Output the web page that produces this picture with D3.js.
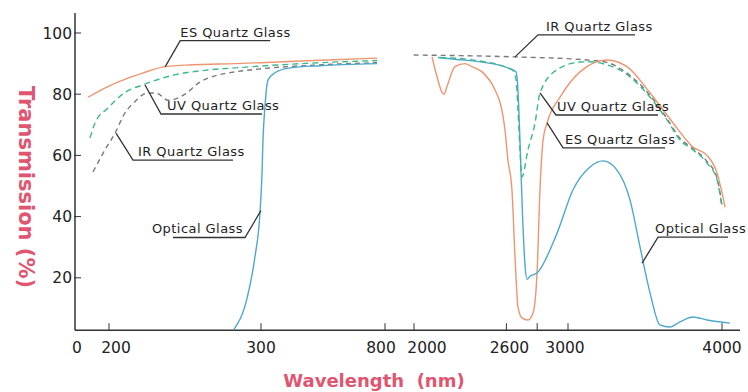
<!DOCTYPE html>
<html>
<head>
<meta charset="utf-8">
<script src="https://cdn.jsdelivr.net/npm/d3@7"></script>
<style>
  body { margin: 0; background: #fff; }
  svg { display: block; font-family: "DejaVu Sans", sans-serif; }
</style>
</head>
<body>
<div class="container"></div>
<script>
// wavelength (nm), transmission (%)
var esQuartzLeft = [[76,79],[194,82.5],[207,84.2],[222,86.9],[237,89],[255,89.6],[283,90],[300,90.3],[540,91.1],[768,91.8]];
var uvQuartzLeft = [[88,65.7],[118,70.6],[194,75.5],[210,80.4],[222,83],[243,86.3],[265,87.9],[283,88.6],[300,89.2],[540,90.3],[768,91]];
var irQuartzLeft = [[106,54.6],[176,61.8],[204,67.3],[210.5,73.9],[217,77.5],[224,80.2],[231,80.4],[239,78],[250,80],[259,83.7],[272,86.3],[283,87.3],[300,88.3],[540,89.6],[768,90.3]];
var opticalLeft  = [[282,3],[291,13.7],[296,26.8],[299.3,41],[304,54],[308,65],[316,76],[328,84.6],[356,87],[417,88.6],[540,89.3],[768,90]];

var esQuartzRight = [[2117,92.2],[2150,85.6],[2182,80.6],[2195,80],[2214,82.5],[2266,89],[2331,90],[2377,89],[2442,87.3],[2526,81.4],[2571,74.8],[2591,68.3],[2610,58.5],[2636,48.7],[2656,26.8],[2675,10.5],[2701,6.9],[2740,6.2],[2773,8.5],[2799,21.6],[2818,48.7],[2838,65],[2864,70.6],[2948,79],[3078,87.3],[3253,91.2],[3383,89],[3533,80.4],[3682,70.6],[3812,62.7],[3903,60],[3968,54.2],[4020,43.1]];
var uvQuartzRight = [[2169,92],[2377,91.2],[2636,88],[2662,85],[2675,75],[2688,62],[2701,53],[2740,61.8],[2786,70.6],[2818,80.4],[2929,88],[3078,90.5],[3143,90.6],[3253,89.6],[3357,87.3],[3533,79],[3643,71.6],[3727,65],[3812,61.8],[3903,57.5],[3968,52],[4000,42.8]];
var irQuartzRight = [[1987,92.8],[2650,92.2],[3120,91.2],[3253,90.4],[3357,87.8],[3533,79.6],[3643,72],[3727,65.6],[3812,62.2],[3903,58],[3968,52.6],[4000,43.6]];
var opticalRight  = [[2156,92],[2266,91.4],[2442,90.5],[2610,88.6],[2662,87.3],[2675,81.4],[2688,65],[2705,40],[2721,24],[2734,19.5],[2753,20.5],[2799,21.6],[2929,34.6],[3032,48.7],[3143,56.2],[3227,58.2],[3318,55.2],[3403,45.4],[3468,30],[3533,15],[3597,4.6],[3662,3.9],[3727,5.6],[3812,7.2],[3903,6.2],[4052,5.2]];

var xTicks = [200, 300, 800, 2000, 2600, 2800, 3000, 4000];
var xLabels = [0, 200, 300, 800, 2000, 2600, 3000, 4000];
var yTicks = [20, 40, 60, 80, 100];

// label: text, curve point it points to (nm, %)
var notes = [
  { text: 'ES Quartz Glass',  at: [237, 89],    dx: 15,  dy: -26, len: 90,  tx: 0,  side: 'right' },
  { text: 'UV Quartz Glass',  at: [223.7, 83],  dx: 16,  dy: 29,  len: 101, tx: 6,  side: 'right' },
  { text: 'IR Quartz Glass',  at: [204.6, 67.3],dx: 17,  dy: 27,  len: 100, tx: 5,  side: 'right' },
  { text: 'Optical Glass',    at: [300, 42],    dx: -16, dy: 27,  len: 72,  tx: -2, side: 'left' },
  { text: 'IR Quartz Glass',  at: [2656, 92.2], dx: 23,  dy: -22, len: 97,  tx: 8,  side: 'right' },
  { text: 'UV Quartz Glass',  at: [2818, 80.4], dx: 16,  dy: 22,  len: 102, tx: 1,  side: 'right' },
  { text: 'ES Quartz Glass',  at: [2864, 70.6], dx: 16,  dy: 25,  len: 102, tx: 2,  side: 'right' },
  { text: 'Optical Glass',    at: [3481, 24.8], dx: 16,  dy: -26, len: 70,  tx: -3, side: 'right' }
];

var width = 748, height = 392;

var svg = d3.select('.container')
    .append('svg')
    .attr('width', width)
    .attr('height', height);

// broken wavelength axis: 0-800 squeezed, 2000-4000 linear
var x = d3.scaleLinear()
    .domain([0, 200, 300, 800, 2000, 4000])
    .range([75, 109, 261, 385, 414, 722]);

var y = d3.scaleLinear()
    .domain([0, 100])
    .range([339, 33]);

var axisY = y(2.9);

// labels sit a bit off their ticks near the break
var nudge = { 0: 2, 200: 7, 800: -4, 2000: 13, 2600: 3, 3000: -3 };

// axes
svg.append('line')
    .attr('x1', x(0)).attr('x2', 740)
    .attr('y1', axisY).attr('y2', axisY)
    .style('stroke', '#333').style('stroke-width', 1.5);

svg.append('line')
    .attr('x1', x(0)).attr('x2', x(0))
    .attr('y1', axisY).attr('y2', y(106.5))
    .style('stroke', '#333').style('stroke-width', 1.5);

svg.selectAll('.xtick')
    .data(xTicks)
    .enter()
    .append('line')
    .attr('class', 'xtick')
    .attr('x1', d => x(d)).attr('x2', d => x(d))
    .attr('y1', axisY).attr('y2', axisY - 7)
    .style('stroke', '#333').style('stroke-width', 1);

svg.selectAll('.xlabel')
    .data(xLabels)
    .enter()
    .append('text')
    .attr('class', 'xlabel')
    .attr('x', d => x(d) + (nudge[d] || 0))
    .attr('y', 353)
    .attr('text-anchor', 'middle')
    .style('font-size', '15.5px')
    .style('fill', '#222')
    .text(d => d);

svg.selectAll('.ytick')
    .data(yTicks)
    .enter()
    .append('line')
    .attr('class', 'ytick')
    .attr('x1', x(0) - 1).attr('x2', x(0) + 6)
    .attr('y1', d => y(d)).attr('y2', d => y(d))
    .style('stroke', '#333').style('stroke-width', 1);

svg.selectAll('.ylabel')
    .data(yTicks)
    .enter()
    .append('text')
    .attr('class', 'ylabel')
    .attr('x', 72)
    .attr('y', d => y(d) + 5.5)
    .attr('text-anchor', 'end')
    .style('font-size', '15.5px')
    .style('fill', '#222')
    .text(d => d);

svg.append('text')
    .attr('transform', 'translate(19,' + 187 + ') rotate(90)')
    .attr('text-anchor', 'middle')
    .style('font-size', '21px')
    .style('font-weight', 'bold')
    .style('fill', '#e05570')
    .text('Transmission (%)');

svg.append('text')
    .attr('x', 374)
    .attr('y', 387)
    .attr('text-anchor', 'middle')
    .style('font-size', '18px')
    .style('font-weight', 'bold')
    .style('fill', '#e05570')
    .style('white-space', 'pre')
    .text('Wavelength  (nm)');

// curves
var line = d3.line()
    .x(d => x(d[0]))
    .y(d => y(d[1]))
    .curve(d3.curveMonotoneX);

var series = [
  { data: irQuartzLeft,  color: '#7a7a7a', dash: '5,4' },
  { data: irQuartzRight, color: '#7a7a7a', dash: '5,4' },
  { data: esQuartzLeft,  color: '#ec9670', dash: null },
  { data: esQuartzRight, color: '#ec9670', dash: null },
  { data: opticalLeft,   color: '#4ea8cb', dash: null },
  { data: opticalRight,  color: '#4ea8cb', dash: null },
  { data: uvQuartzLeft,  color: '#3cb88e', dash: '6,4' },
  { data: uvQuartzRight, color: '#3cb88e', dash: '6,4' }
];

svg.selectAll('.curve')
    .data(series)
    .enter()
    .append('path')
    .attr('class', 'curve')
    .attr('d', d => line(d.data))
    .style('fill', 'none')
    .style('stroke', d => d.color)
    .style('stroke-width', 1.4)
    .style('stroke-dasharray', d => d.dash);

// leader lines + labels
var g = svg.selectAll('.note')
    .data(notes)
    .enter()
    .append('g')
    .attr('class', 'note');

g.append('polyline')
    .attr('points', function(d) {
      var px = x(d.at[0]), py = y(d.at[1]);
      var ex = px + d.dx, ey = py + d.dy;
      var ux = d.side == 'left' ? ex - d.len : ex + d.len;
      return [[px, py], [ex, ey], [ux, ey]].join(' ');
    })
    .style('fill', 'none')
    .style('stroke', '#333')
    .style('stroke-width', 1.3);

g.append('text')
    .attr('x', d => x(d.at[0]) + d.dx + d.tx)
    .attr('y', d => y(d.at[1]) + d.dy - 4)
    .attr('text-anchor', d => d.side == 'left' ? 'end' : 'start')
    .style('font-size', '13px')
    .style('letter-spacing', '0.45px')
    .style('fill', '#1e1e1e')
    .text(d => d.text);
</script>
</body>
</html>
